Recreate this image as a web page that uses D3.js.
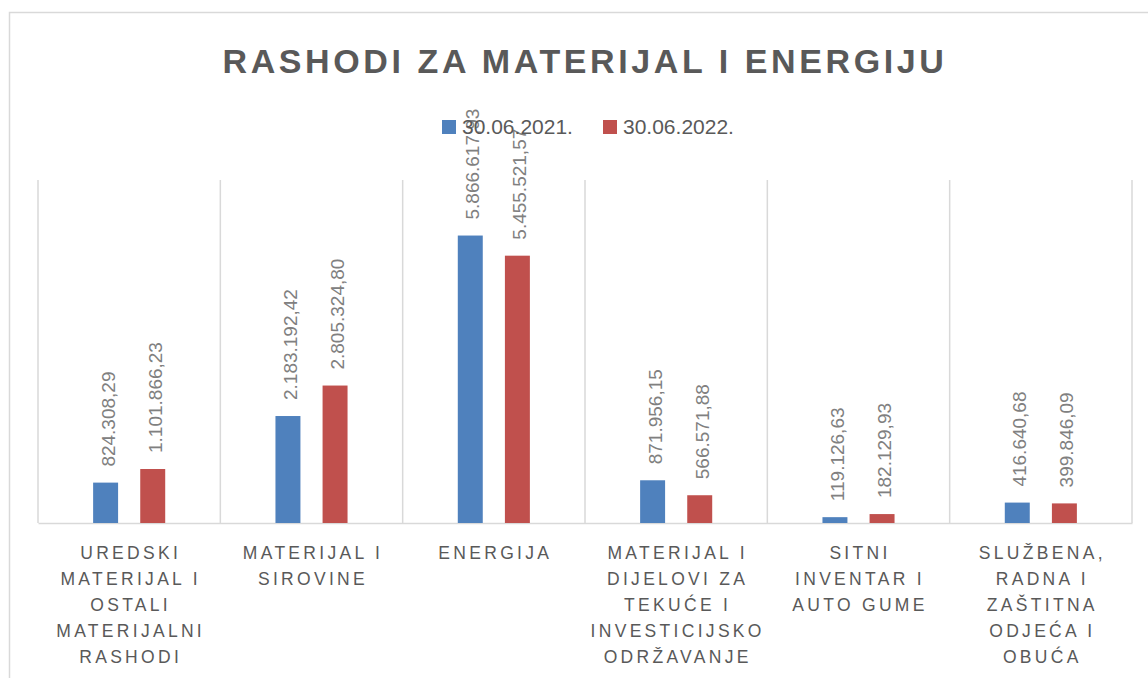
<!DOCTYPE html>
<html>
<head>
<meta charset="utf-8">
<script src="https://cdn.jsdelivr.net/npm/d3@7"></script>
<style>
  body { margin: 0; background: #fff; }
  svg { display: block; font-family: "Liberation Sans", Arial, sans-serif; }
</style>
</head>
<body>
<svg id="chart" width="1148" height="678"></svg>
<script>
const title = "RASHODI ZA MATERIJAL I ENERGIJU";
const categories = [
  ["UREDSKI", "MATERIJAL I", "OSTALI", "MATERIJALNI", "RASHODI"],
  ["MATERIJAL I", "SIROVINE"],
  ["ENERGIJA"],
  ["MATERIJAL I", "DIJELOVI ZA", "TEKUĆE I", "INVESTICIJSKO", "ODRŽAVANJE"],
  ["SITNI", "INVENTAR I", "AUTO GUME"],
  ["SLUŽBENA,", "RADNA I", "ZAŠTITNA", "ODJEĆA I", "OBUĆA"],
];
const seriesNames = ["30.06.2021.", "30.06.2022."];
const values2021 = [824308.29, 2183192.42, 5866617.93, 871956.15, 119126.63, 416640.68];
const values2022 = [1101866.23, 2805324.80, 5455521.57, 566571.88, 182129.93, 399846.09];
const colors = ["#4f81bd", "#c0504d"];

const margin = { top: 180, left: 38, right: 16, bottom: 155 };
const W = 1148, H = 678;
const width = W - margin.left - margin.right;
const height = H - margin.top - margin.bottom;

const hr = d3.formatLocale({ decimal: ",", thousands: ".", grouping: [3], currency: ["", ""] });
const fmt = hr.format(",.2f");

const data = categories.map((lines, i) => ({
  key: lines.join(" "),
  lines,
  vals: [values2021[i], values2022[i]],
}));

const svg = d3.select("#chart");

// chart area border (runs off the right / bottom of the picture)
svg.append("rect")
  .attr("x", 9.5).attr("y", 12.5)
  .attr("width", W).attr("height", H)
  .attr("fill", "none").attr("stroke", "#d9d9d9").attr("stroke-width", 1.5);

svg.append("text")
  .attr("x", 585).attr("y", 73)
  .attr("text-anchor", "middle")
  .attr("font-size", 34).attr("font-weight", "bold")
  .attr("letter-spacing", "3.6px")
  .attr("fill", "#595959")
  .text(title);

const g = svg.append("g").attr("transform", `translate(${margin.left},${margin.top})`);

const x0 = d3.scaleBand().domain(data.map((d) => d.key)).range([0, width]).padding(0);
const x1 = d3.scaleBand().domain([0, 1]).range([0, x0.bandwidth()]).paddingInner(0.47).paddingOuter(1.17);
const y = d3.scaleLinear().domain([0, 7000000]).range([height, 0]);

// vertical separators between categories
const bounds = data.map((d) => x0(d.key)).concat([width]);
g.selectAll(".sep")
  .data(bounds)
  .join("line")
  .attr("class", "sep")
  .attr("x1", (d) => d).attr("x2", (d) => d)
  .attr("y1", 0).attr("y2", height)
  .attr("stroke", "#d9d9d9").attr("stroke-width", 1.5);

// category axis
const xAxis = g.append("g")
  .attr("transform", `translate(0,${height})`)
  .call(d3.axisBottom(x0).tickSize(0).tickFormat(""));
xAxis.select(".domain").attr("stroke", "#d9d9d9").attr("stroke-width", 1.5);

const catLabel = g.selectAll(".cat")
  .data(data)
  .join("text")
  .attr("class", "cat")
  .attr("text-anchor", "middle")
  .attr("font-size", 17.5)
  .attr("letter-spacing", "3.3px")
  .attr("fill", "#595959");
catLabel.selectAll("tspan")
  .data((d) => d.lines.map((l, i) => ({ l, i, cx: x0(d.key) + x0.bandwidth() / 2 })))
  .join("tspan")
  .attr("x", (d) => d.cx + 1.5)
  .attr("y", (d) => height + 36 + d.i * 26)
  .text((d) => d.l);

// bars
const groups = g.selectAll(".grp")
  .data(data)
  .join("g")
  .attr("class", "grp")
  .attr("transform", (d) => `translate(${x0(d.key)},0)`);

groups.selectAll("rect")
  .data((d) => d.vals.map((v, i) => ({ v, i })))
  .join("rect")
  .attr("x", (d) => x1(d.i))
  .attr("y", (d) => y(d.v))
  .attr("width", x1.bandwidth())
  .attr("height", (d) => height - y(d.v))
  .attr("fill", (d) => colors[d.i]);

groups.selectAll(".lbl")
  .data((d) => d.vals.map((v, i) => ({ v, i })))
  .join("text")
  .attr("class", "lbl")
  .attr("transform", (d) => `translate(${x1(d.i) + x1.bandwidth() / 2},${y(d.v) - 16}) rotate(-90)`)
  .attr("dy", 9)
  .attr("font-size", 19)
  .attr("fill", "#808080")
  .text((d) => fmt(d.v));

// legend
const legend = svg.append("g");
const legendX = [442, 603];
seriesNames.forEach((name, i) => {
  legend.append("rect")
    .attr("x", legendX[i]).attr("y", 120)
    .attr("width", 14).attr("height", 14)
    .attr("fill", colors[i]);
  legend.append("text")
    .attr("x", legendX[i] + 20).attr("y", 134)
    .attr("font-size", 21)
    .attr("fill", "#595959")
    .text(name);
});
</script>
</body>
</html>
